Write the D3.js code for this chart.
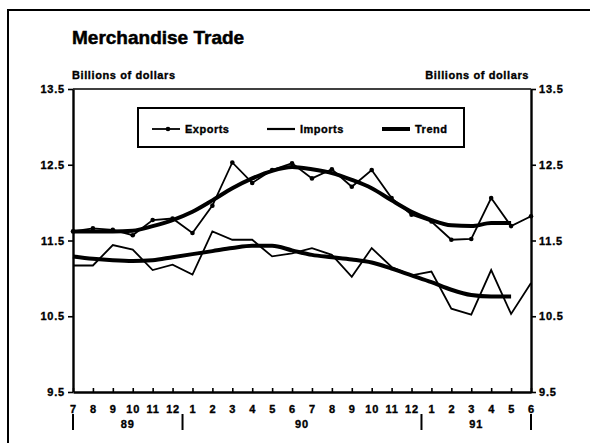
<!DOCTYPE html>
<html>
<head>
<meta charset="utf-8">
<script src="https://cdn.jsdelivr.net/npm/d3@7"></script>
<style>
  body { margin: 0; background: #fff; }
  text { font-family: "Liberation Sans", Arial, sans-serif; font-weight: bold; fill: #000; stroke: #000; stroke-width: 0.35px; }
</style>
</head>
<body>
<div id="chart"></div>
<script>
// monthly data, Jul 1989 - Jun 1991 (billions of dollars)
const months = ["7","8","9","10","11","12","1","2","3","4","5","6","7","8","9","10","11","12","1","2","3","4","5","6"];
const exportsData = [11.62, 11.66, 11.64, 11.57, 11.77, 11.79, 11.60, 11.96, 12.53, 12.26, 12.43, 12.52,
                     12.32, 12.44, 12.21, 12.43, 12.06, 11.84, 11.75, 11.51, 11.52, 12.06, 11.69, 11.82];
const importsData = [11.17, 11.17, 11.44, 11.38, 11.11, 11.18, 11.05, 11.62, 11.51, 11.51, 11.29, 11.33,
                     11.40, 11.31, 11.02, 11.40, 11.15, 11.04, 11.09, 10.60, 10.52, 11.11, 10.53, 10.94];
const exportsTrend = [11.62, 11.62, 11.62, 11.63, 11.69, 11.77, 11.88, 12.03, 12.19, 12.32, 12.42, 12.47,
                      12.44, 12.39, 12.30, 12.19, 12.03, 11.88, 11.77, 11.70, 11.69, 11.73, 11.73];
const importsTrend = [11.29, 11.26, 11.24, 11.23, 11.24, 11.28, 11.32, 11.36, 11.40, 11.43, 11.43, 11.37,
                      11.31, 11.28, 11.25, 11.21, 11.13, 11.04, 10.95, 10.85, 10.78, 10.76, 10.76];
const yTicks = [9.5, 10.5, 11.5, 12.5, 13.5];
const years = ["89", "90", "91"];
const yearMid = [2.75, 11.5, 20.25];      // month index at which year label sits
const yearBreaks = [0, 5.5, 17.5, 23];     // month index of separators

const W = 590, H = 443;
const svg = d3.select("#chart").append("svg")
  .attr("width", W)
  .attr("height", H);

// outer frame
svg.append("rect")
  .attr("x", 8).attr("y", 10)
  .attr("width", 620).attr("height", 460)
  .attr("fill", "none").attr("stroke", "#000").attr("stroke-width", 2);

svg.append("text")
  .attr("x", 72).attr("y", 44)
  .style("font-size", "19px")
  .style("stroke-width", "0.5px")
  .text("Merchandise Trade");

svg.append("text")
  .attr("x", 72).attr("y", 79)
  .style("font-size", "11px")
  .style("letter-spacing", "0.6px")
  .text("Billions of dollars");

svg.append("text")
  .attr("x", 529).attr("y", 79)
  .attr("text-anchor", "end")
  .style("font-size", "11px")
  .style("letter-spacing", "0.6px")
  .text("Billions of dollars");

const plotL = 73, plotR = 531, plotT = 89, plotB = 392;
const x = d3.scaleLinear().domain([0, months.length - 1]).range([plotL, plotR]);
const y = d3.scaleLinear().domain([9.5, 13.5]).range([plotB, plotT]);

// top border of plot
svg.append("line")
  .attr("x1", plotL).attr("x2", plotR)
  .attr("y1", plotT).attr("y2", plotT)
  .attr("stroke", "#000").attr("stroke-width", 1.5);

const fmt = d3.format(".1f");

const yl = svg.append("g")
  .attr("transform", `translate(${plotL},0)`)
  .call(d3.axisLeft(y).tickValues(yTicks).tickFormat(fmt).tickSize(5).tickSizeOuter(0).tickPadding(3));

const yr = svg.append("g")
  .attr("transform", `translate(${plotR},0)`)
  .call(d3.axisRight(y).tickValues(yTicks).tickFormat(fmt).tickSize(5).tickSizeOuter(0).tickPadding(3));

const xa = svg.append("g")
  .attr("transform", `translate(0,${plotB})`)
  .call(d3.axisBottom(x).tickValues(d3.range(months.length)).tickFormat(i => months[i])
    .tickSize(-4).tickSizeOuter(0).tickPadding(13));

[yl, yr, xa].forEach(g => {
  g.select(".domain").attr("stroke", "#000").attr("stroke-width", 2.4);
  g.selectAll(".tick line").attr("stroke", "#000").attr("stroke-width", 1.6);
  g.selectAll("text")
    .style("font-family", "'Liberation Sans', Arial, sans-serif")
    .style("font-weight", "bold")
    .style("font-size", "11px")
    .style("letter-spacing", "0.8px")
    .attr("fill", "#000");
});

// year separators and labels
svg.selectAll(".ysep")
  .data(yearBreaks)
  .enter().append("line")
  .attr("x1", d => x(d)).attr("x2", d => x(d))
  .attr("y1", 414).attr("y2", 430)
  .attr("stroke", "#000").attr("stroke-width", 2);

svg.selectAll(".ylab")
  .data(years)
  .enter().append("text")
  .attr("x", (d, i) => x(yearMid[i]))
  .attr("y", 428)
  .attr("text-anchor", "middle")
  .style("font-size", "11px")
  .style("letter-spacing", "0.8px")
  .text(d => d);

// lines
const line = d3.line()
  .x((d, i) => x(i))
  .y(d => y(d));

const trendLine = d3.line()
  .curve(d3.curveMonotoneX)
  .x((d, i) => x(i))
  .y(d => y(d));

svg.append("path")
  .datum(importsData)
  .attr("d", line)
  .attr("fill", "none").attr("stroke", "#000").attr("stroke-width", 1.8);

svg.append("path")
  .datum(exportsData)
  .attr("d", line)
  .attr("fill", "none").attr("stroke", "#000").attr("stroke-width", 1.8);

svg.selectAll(".dot")
  .data(exportsData)
  .enter().append("circle")
  .attr("cx", (d, i) => x(i))
  .attr("cy", d => y(d))
  .attr("r", 2.3)
  .attr("fill", "#000");

[exportsTrend, importsTrend].forEach(t => {
  svg.append("path")
    .datum(t)
    .attr("d", trendLine)
    .attr("fill", "none").attr("stroke", "#000").attr("stroke-width", 4);
});

// legend
const legend = svg.append("g");
legend.append("rect")
  .attr("x", 138).attr("y", 108)
  .attr("width", 326).attr("height", 39)
  .attr("fill", "#fff").attr("stroke", "#000").attr("stroke-width", 2);

const legendItems = [
  { label: "Exports", x: 152, w: 1.8, dot: true },
  { label: "Imports", x: 267, w: 2.2, dot: false },
  { label: "Trend", x: 382, w: 4, dot: false }
];

legendItems.forEach(d => {
  legend.append("line")
    .attr("x1", d.x).attr("x2", d.x + 28)
    .attr("y1", 129).attr("y2", 129)
    .attr("stroke", "#000").attr("stroke-width", d.w);
  if (d.dot) {
    legend.append("circle")
      .attr("cx", d.x + 16).attr("cy", 129).attr("r", 2.3).attr("fill", "#000");
  }
  legend.append("text")
    .attr("x", d.x + 33).attr("y", 133)
    .style("font-size", "11px")
    .style("letter-spacing", "0.5px")
    .text(d.label);
});
</script>
</body>
</html>
